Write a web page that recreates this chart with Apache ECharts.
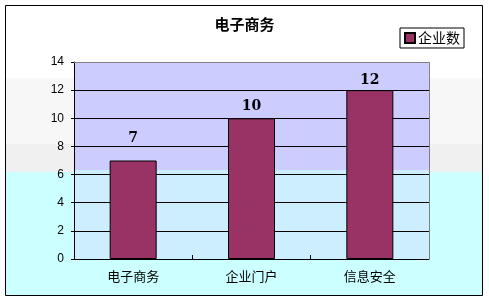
<!DOCTYPE html>
<html><head><meta charset="utf-8">
<script src="https://cdn.jsdelivr.net/npm/echarts@6/dist/echarts.min.js"></script>
<style>html,body{margin:0;padding:0;background:#fff}#c{width:489px;height:301px}</style>
</head><body><div id="c"></div>
<script>
const categories = ['电子商务', '企业门户', '信息安全'];
const seriesName = '企业数';
const values = [7, 10, 12];
const yTicks = { min: 0, max: 14, interval: 2 };

const labelGaps = [15, 5, 3];
const G = { left: 74, top: 62, width: 355, height: 197 };
const chart = echarts.init(document.getElementById('c'), null, { renderer: 'canvas' });
const font = '"Noto Sans CJK SC", sans-serif';
chart.setOption({
  animation: false,
  backgroundColor: '#ffffff',
  graphic: [
    { type: 'rect', z: -10, silent: true, shape: { x: 6, y: 78, width: 476, height: 66 }, style: { fill: '#f7f7f7' } },
    { type: 'rect', z: -10, silent: true, shape: { x: 6, y: 144, width: 476, height: 28 }, style: { fill: '#f0f0f0' } },
    { type: 'rect', z: -10, silent: true, shape: { x: 6, y: 172, width: 476, height: 123 }, style: { fill: '#ccffff' } },
    { type: 'rect', z: -9, silent: true, shape: { x: G.left, y: G.top, width: G.width, height: 108 }, style: { fill: '#ccccff' } },
    { type: 'rect', z: -9, silent: true, shape: { x: G.left, y: 170, width: G.width, height: G.top + G.height - 170 }, style: { fill: '#cceeff' } },
    { type: 'rect', z: -8, silent: true, shape: { x: 5.5, y: 5.5, width: 477, height: 290 }, style: { fill: 'none', stroke: '#000', lineWidth: 1 } },
    { type: 'polyline', z: 5, silent: true, shape: { points: [[G.left, G.top + 0.5], [G.left + G.width + 0.5, G.top + 0.5], [G.left + G.width + 0.5, G.top + G.height]] }, style: { fill: 'none', stroke: '#808080', lineWidth: 1 } }
  ],
  title: {
    text: '电子商务', left: 'center', top: 12,
    textStyle: { fontFamily: font, fontSize: 15, fontWeight: 'bold', color: '#000' }
  },
  legend: {
    data: [seriesName], right: 25, top: 28,
    itemWidth: 10, itemHeight: 10, itemGap: 4,
    padding: [3, 4, 3, 4],
    borderColor: '#000', borderWidth: 1, backgroundColor: '#fff', borderRadius: 0,
    icon: 'rect',
    textStyle: { fontFamily: font, fontSize: 14, color: '#000', padding: [0, 0, 0, -2] }
  },
  grid: { left: G.left, top: G.top, width: G.width, height: G.height, containLabel: false },
  xAxis: {
    type: 'category', data: categories,
    axisLine: { lineStyle: { color: '#000', width: 1 } },
    axisTick: { show: true, inside: true, length: 4, lineStyle: { color: '#000' } },
    axisLabel: { fontFamily: font, fontSize: 13, color: '#000', margin: 11 }
  },
  yAxis: {
    type: 'value', min: yTicks.min, max: yTicks.max, interval: yTicks.interval,
    axisLine: { show: true, lineStyle: { color: '#000', width: 1 } },
    axisTick: { show: true, length: 3, lineStyle: { color: '#000' } },
    axisLabel: { fontFamily: 'Liberation Sans, sans-serif', fontSize: 12, color: '#000', margin: 10 },
    splitLine: { show: true, lineStyle: { color: '#000', width: 1 } }
  },
  series: [{
    name: seriesName, type: 'bar', barWidth: 47,
    data: values.map((v, i) => ({ value: v, label: { distance: labelGaps[i] } })),
    itemStyle: { color: '#993366', borderColor: '#000', borderWidth: 1 },
    label: { show: true, position: 'top', fontFamily: 'DejaVu Serif, serif', fontSize: 14, fontWeight: 'bold', color: '#000' }
  }]
});
</script></body></html>
